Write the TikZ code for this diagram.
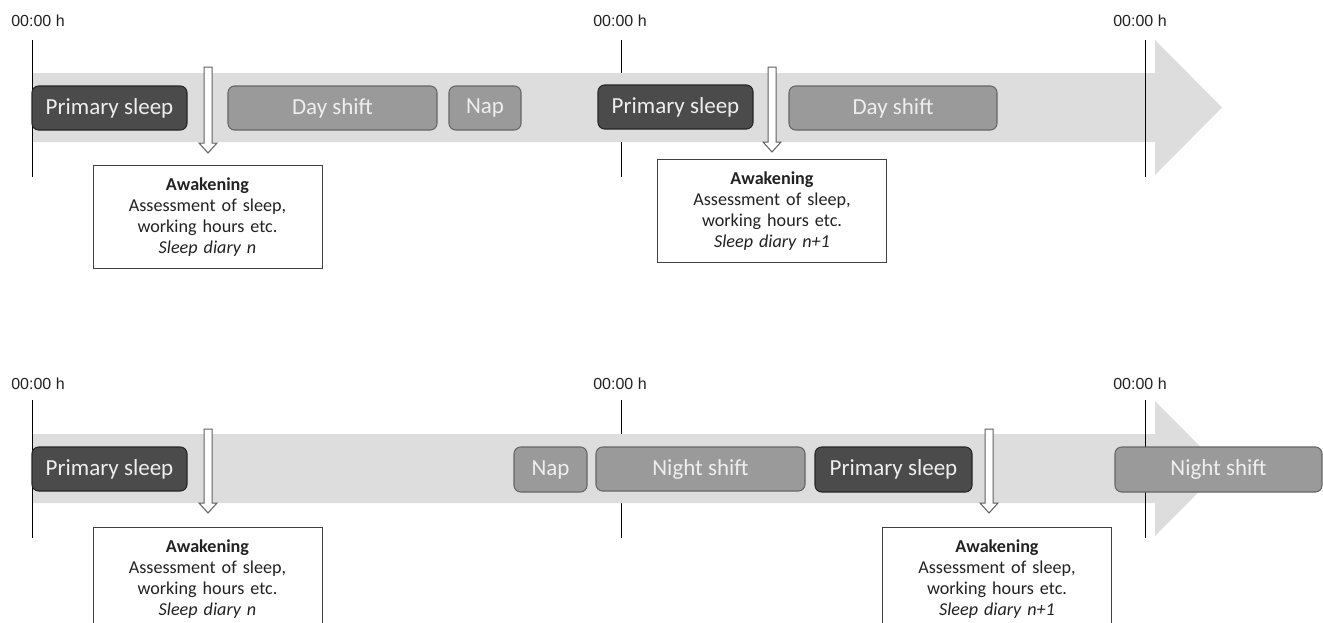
\documentclass[tikz,border=0pt]{standalone}
\usepackage{fontspec}
\setmainfont{Carlito}
\newfontfamily\timefont{Liberation Sans}
\usetikzlibrary{calc}
\definecolor{bandgray}{HTML}{DDDDDD}
\definecolor{darkfill}{HTML}{4B4B4B}
\definecolor{darkline}{HTML}{262626}
\definecolor{midfill}{HTML}{9A9A9A}
\definecolor{midline}{HTML}{666666}
\definecolor{boxtext}{HTML}{EEEEEE}
\definecolor{arrline}{HTML}{606060}
\definecolor{awkline}{HTML}{404040}
\definecolor{txt}{HTML}{222222}
\newcommand\tbox[7]{\node[#2, minimum width={(#5-#3)*0.75pt}, minimum height={(#6-#4)*0.75pt}] (#1) at ({(#3+#5)/2},{(#4+#6)/2}) {#7};}
\newcommand\wakearrow[2]{\draw[wakearr] ($(#1)+(-4,0)$) -- ($(#1)+(4,0)$) -- ($(#2)+(4,-10)$) -- ($(#2)+(9,-10)$) -- (#2) -- ($(#2)+(-9,-10)$) -- ($(#2)+(-4,-10)$) -- cycle;}
\newcommand\bandshape[1]{\fill[bandgray] (32,#1-34.5) -- (1155,#1-34.5) -- (1155,#1-67.5) -- (1222,#1) -- (1155,#1+67.5) -- (1155,#1+34.5) -- (32,#1+34.5) -- cycle;}
\begin{document}
\begin{tikzpicture}[x=0.75pt,y=-0.75pt,
  boxbase/.style={rounded corners=5pt, line width=0.8pt, inner sep=0pt, text=boxtext, font=\fontsize{17.25}{20}\selectfont},
  sleepbox/.style={boxbase, draw=darkline, fill=darkfill},
  shiftbox/.style={boxbase, draw=midline, fill=midfill},
  awk/.style={draw=awkline, line width=0.75pt, fill=white, text=txt, anchor=north, inner xsep=0pt, inner ysep=2pt,
     text width=171.75pt, align=center, minimum height=77.25pt, font=\fontsize{13.6}{15.75}\selectfont},
  timelbl/.style={font=\timefont\fontsize{12}{13}\selectfont, text=txt, inner sep=0pt},
  tick/.style={black, line width=0.7pt},
  wakearr/.style={draw=arrline, fill=white, line width=0.75pt, line join=miter}]
\clip (0,0) rectangle (1323,622);
\fill[white] (0,0) rectangle (1323,622);

% ---------- top timeline ----------
\draw[tick] (621,40) -- (621,177);
\bandshape{107.5}
\draw[tick] (32,40) -- (32,177);
\draw[tick] (1145,40) -- (1145,177);
\node[timelbl] (t1) at (38,21) {00:00 h};
\node[timelbl] (t2) at (620,21) {00:00 h};
\node[timelbl] (t3) at (1140,21) {00:00 h};

\tbox{ps1}{sleepbox}{32}{86}{187}{130}{Primary sleep}
\tbox{ds1}{shiftbox}{228}{86}{437}{130}{Day shift}
\tbox{nap1}{shiftbox}{449}{86}{521}{130}{Nap}
\tbox{ps2}{sleepbox}{598}{85}{753}{129}{Primary sleep}
\tbox{ds2}{shiftbox}{789}{86}{997}{130}{Day shift}

\coordinate (a1s) at (208,67); \coordinate (a1e) at (208,153);
\coordinate (a2s) at (772,67); \coordinate (a2e) at (772,152);
\wakearrow{a1s}{a1e}
\wakearrow{a2s}{a2e}

\node[awk] (w1) at (207.5,165) {\textbf{Awakening}\\Assessment of sleep,\\working hours etc.\\\textit{Sleep diary n}};
\node[awk] (w2) at (772,159) {\textbf{Awakening}\\Assessment of sleep,\\working hours etc.\\\textit{Sleep diary n+1}};

% ---------- bottom timeline ----------
\draw[tick] (621,400) -- (621,538);
\bandshape{468.5}
\draw[tick] (32,400) -- (32,538);
\draw[tick] (1145,400) -- (1145,538);
\node[timelbl] (t4) at (38,384) {00:00 h};
\node[timelbl] (t5) at (620,384) {00:00 h};
\node[timelbl] (t6) at (1140,384) {00:00 h};

\tbox{ps3}{sleepbox}{32}{447}{187}{491}{Primary sleep}
\tbox{nap2}{shiftbox}{514}{447}{587}{492}{Nap}
\tbox{ns1}{shiftbox}{596}{447}{805}{491}{Night shift}
\tbox{ps4}{sleepbox}{815}{447}{972}{492}{Primary sleep}
\tbox{ns2}{shiftbox}{1115}{447}{1322}{492}{Night shift}

\coordinate (a3s) at (208,429); \coordinate (a3e) at (208,513);
\coordinate (a4s) at (989,429); \coordinate (a4e) at (989,513);
\wakearrow{a3s}{a3e}
\wakearrow{a4s}{a4e}

\node[awk] (w3) at (207.5,527) {\textbf{Awakening}\\Assessment of sleep,\\working hours etc.\\\textit{Sleep diary n}};
\node[awk] (w4) at (997,527) {\textbf{Awakening}\\Assessment of sleep,\\working hours etc.\\\textit{Sleep diary n+1}};
\end{tikzpicture}
\end{document}
